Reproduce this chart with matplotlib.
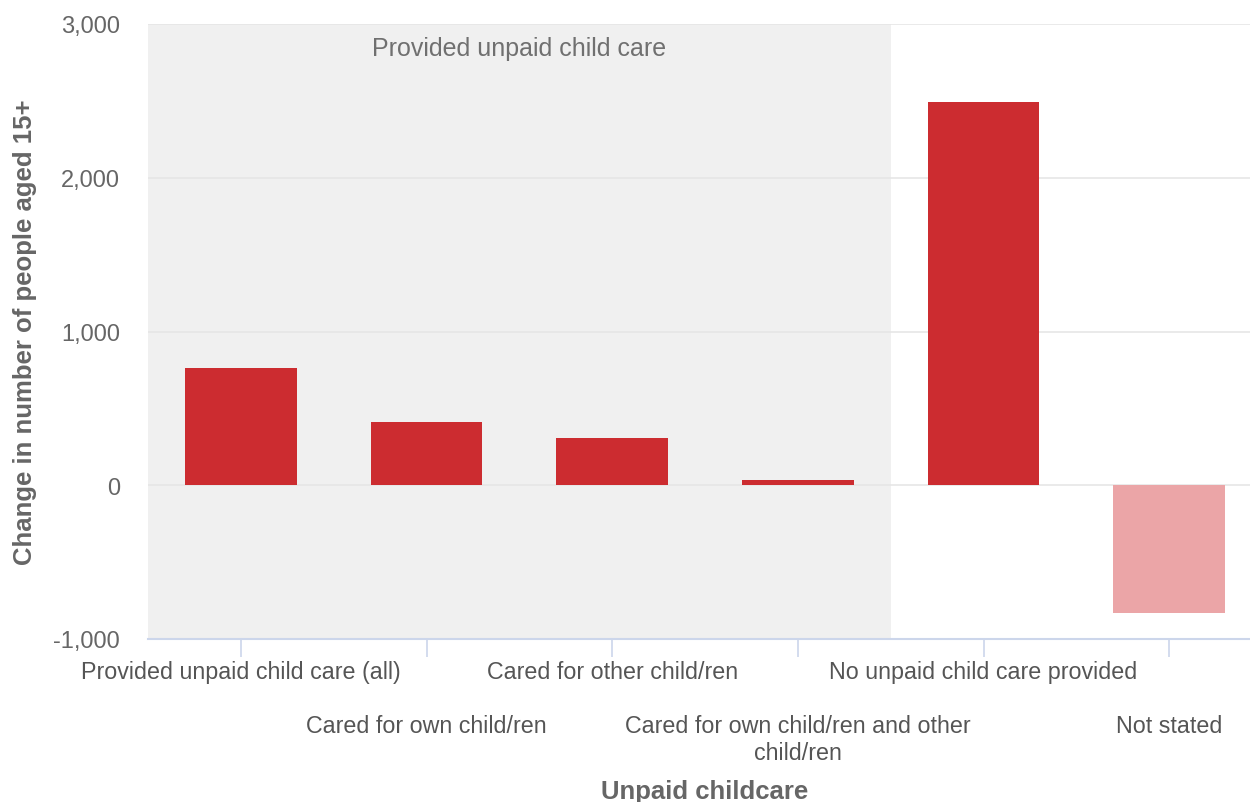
import matplotlib.pyplot as plt
import numpy as np

plt.rcParams['font.family'] = ['Liberation Sans', 'DejaVu Sans']

# Data
categories = ['Provided unpaid child care (all)', 'Cared for own child/ren',
              'Cared for other child/ren', 'Cared for own child/ren and other\nchild/ren',
              'No unpaid child care provided', 'Not stated']
values = [765, 412, 308, 36, 2492, -828]
colors = ['#cc2c30', '#cc2c30', '#cc2c30', '#cc2c30', '#cc2c30', '#eba5a7']

fig = plt.figure(figsize=(12.5, 8.03), dpi=100)
ax = fig.add_axes([148 / 1250, 1 - 640 / 803, 1 - 148 / 1250, (640 - 25) / 803])

x = np.arange(len(categories))

# Shaded band for the "provided" group
ax.axvspan(-0.5, 3.5, color='#f0f0f0', zorder=0, lw=0)
ax.text(1.5, 2845, 'Provided unpaid child care', ha='center', va='center',
        fontsize=18, color='#707070')

ax.bar(x, values, width=0.6, color=colors, zorder=3)

ax.set_xlim(-0.5, 5.5 - 12 / 185.6)
ax.set_ylim(-1000, 3000)
ax.set_yticks([-1000, 0, 1000, 2000, 3000])
ax.set_yticklabels(['-1,000', '0', '1,000', '2,000', '3,000'])
ax.yaxis.grid(True, color='#e6e6e6', lw=1.2, zorder=1)
ax.set_axisbelow(True)

for s in ['top', 'right', 'left']:
    ax.spines[s].set_visible(False)
ax.spines['bottom'].set_color('#ccd6eb')
ax.spines['bottom'].set_linewidth(1.5)

ax.tick_params(axis='y', length=0, pad=20, labelsize=17, labelcolor='#666666')
ax.tick_params(axis='x', length=13, width=1.2, color='#ccd6eb', labelsize=16.75,
               labelcolor='#555555', pad=2)

ax.set_xticks(x)
ax.set_xticklabels(categories, linespacing=1.2)
for i, t in enumerate(ax.xaxis.get_major_ticks()):
    if i % 2 == 1:
        t.set_pad(41)

ax.set_ylabel('Change in number of people aged 15+', fontsize=18.5, fontweight='bold',
              color='#666666', labelpad=12)
fig.text(705 / 1250, 1 - 792 / 803, 'Unpaid childcare', ha='center', va='center',
         fontsize=18.5, fontweight='bold', color='#666666')

fig.savefig('out.png', dpi=100)
